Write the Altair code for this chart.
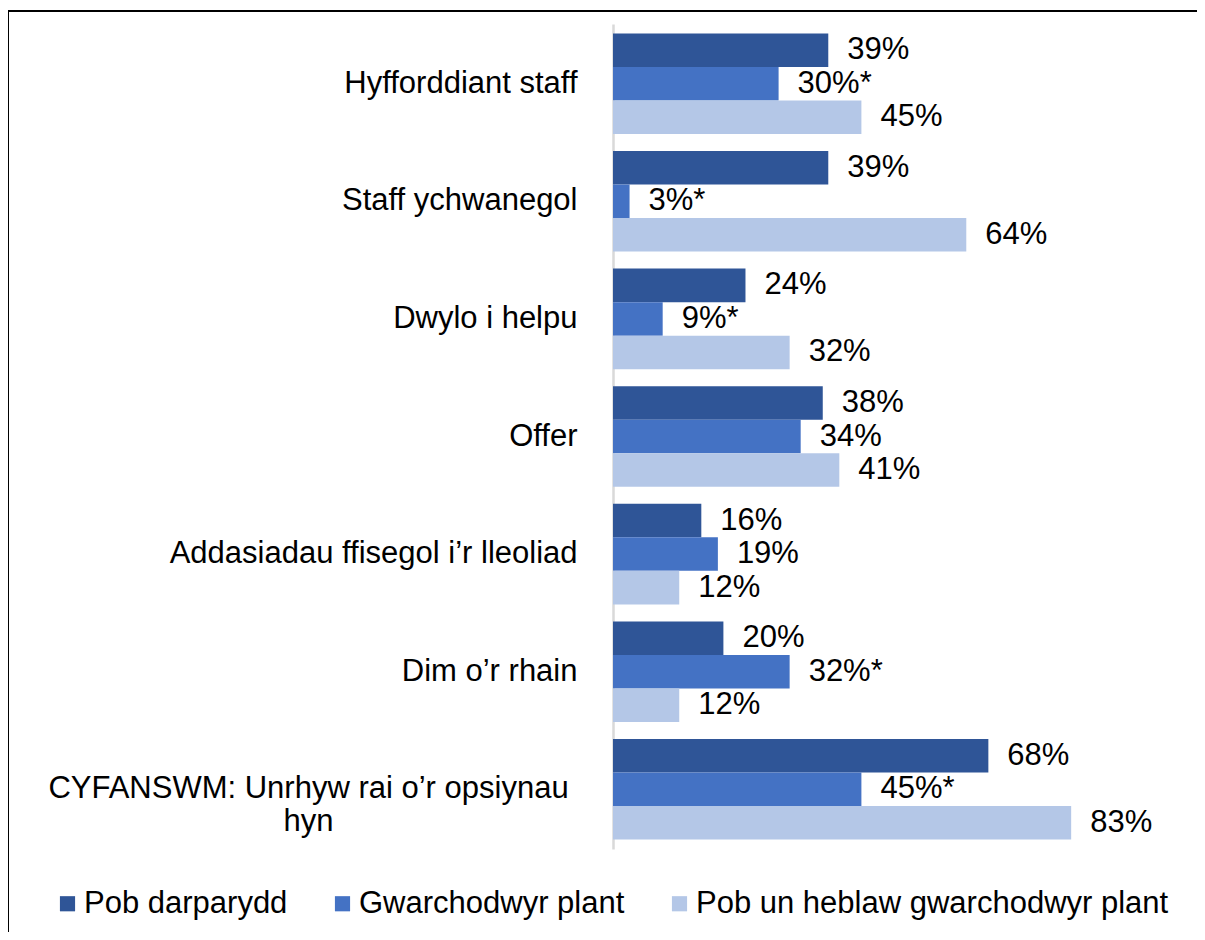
import altair as alt
import pandas as pd

FONT = "Liberation Sans"
FS = 31

categories = [
    "Hyfforddiant staff",
    "Staff ychwanegol",
    "Dwylo i helpu",
    "Offer",
    "Addasiadau ffisegol i’r lleoliad",
    "Dim o’r rhain",
    "CYFANSWM: Unrhyw rai o’r opsiynau hyn",
]
series = ["Pob darparydd", "Gwarchodwyr plant", "Pob un heblaw gwarchodwyr plant"]
pob_darparydd = [39, 39, 24, 38, 16, 20, 68]
gwarchodwyr = [30, 3, 9, 34, 19, 32, 45]
heblaw = [45, 64, 32, 41, 12, 12, 83]
gwarchodwyr_sig = [True, True, True, False, False, True, True]
colors = ["#2F5597", "#4472C4", "#B4C7E7"]

rows = []
for i, c in enumerate(categories):
    for s, vals, sig in [
        (series[0], pob_darparydd, None),
        (series[1], gwarchodwyr, gwarchodwyr_sig),
        (series[2], heblaw, None),
    ]:
        v = vals[i]
        star = "*" if (sig is not None and sig[i]) else ""
        rows.append({"category": c, "series": s, "value": v, "label": f"{v}%{star}"})
df = pd.DataFrame(rows)

long_cat = categories[-1]
is_long = f"datum.value == '{long_cat}'"
label_expr = (
    f"datum.value == '{long_cat}' ? "
    f"['CYFANSWM: Unrhyw rai o’r opsiynau', 'hyn'] : datum.label"
)

y_enc = alt.Y(
    "category:N",
    sort=categories,
    scale=alt.Scale(paddingInner=0.145, paddingOuter=0.08),
    axis=alt.Axis(
        title=None,
        ticks=False,
        labelPadding={"condition": {"test": is_long, "value": 305}, "value": 36},
        labelAlign={"condition": {"test": is_long, "value": "center"}, "value": "right"},
        labelFont=FONT,
        labelFontSize=FS,
        labelColor="#000000",
        labelLimit=800,
        labelLineHeight=33,
        labelExpr=label_expr,
        domainColor="#D9D9D9",
        domainWidth=2.5,
        grid=False,
    ),
)
yoff_enc = alt.YOffset(
    "series:N", sort=series, scale=alt.Scale(paddingInner=0, paddingOuter=0)
)
x_enc = alt.X("value:Q", scale=alt.Scale(domain=[0, 100]), axis=None)

base = alt.Chart(df)

bars = base.mark_bar().encode(
    y=y_enc,
    yOffset=yoff_enc,
    x=x_enc,
    color=alt.Color(
        "series:N",
        sort=series,
        scale=alt.Scale(domain=series, range=colors),
        legend=alt.Legend(
            title=None,
            orient="none",
            legendX=-561,
            legendY=864,
            padding=0,
            direction="horizontal",
            columns=3,
            symbolType="square",
            symbolSize=230,
            symbolStrokeWidth=0,
            labelFont=FONT,
            labelFontSize=FS,
            labelColor="#000000",
            labelOffset=1,
            labelLimit=800,
            columnPadding=39,
        ),
    ),
)

text = base.mark_text(
    align="left", baseline="middle", dx=19, font=FONT, fontSize=FS, color="#000000"
).encode(y=y_enc, yOffset=yoff_enc, x=x_enc, text="label:N")

frame = (
    alt.Chart(pd.DataFrame({"f": [0]}))
    .mark_rect(fillOpacity=0, stroke="#000000", strokeWidth=2)
    .encode(
        x=alt.value(-605),
        x2=alt.value(700),
        y=alt.value(-13),
        y2=alt.value(1000),
    )
)

chart = (
    alt.layer(bars, text, frame)
    .properties(
        width=552,
        height=825,
        autosize=alt.AutoSizeParams(type="none"),
        padding={"left": 605, "top": 16, "right": 32, "bottom": 83},
    )
    .configure_view(stroke=None)
)

chart.save("out.html", embed_options={"renderer": "svg", "actions": False})
